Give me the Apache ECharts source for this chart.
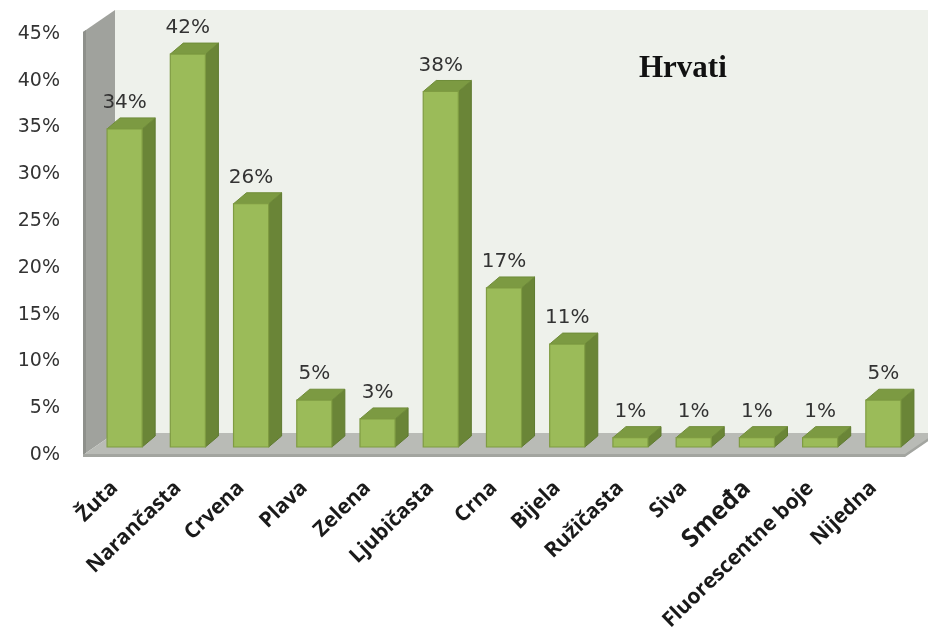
<!DOCTYPE html>
<html>
<head>
<meta charset="utf-8">
<script src="https://cdn.jsdelivr.net/npm/echarts@6/dist/echarts.min.js"></script>
<style>
  html, body { margin: 0; padding: 0; background: #ffffff; }
  #chart { width: 928px; height: 637px; }
</style>
</head>
<body>
<div id="chart"></div>
<script>
const categories = ['Žuta', 'Narančasta', 'Crvena', 'Plava', 'Zelena', 'Ljubičasta', 'Crna', 'Bijela', 'Ružičasta', 'Siva', 'Smeđa', 'Fluorescentne boje', 'Nijedna'];
const values = [34, 42, 26, 5, 3, 38, 17, 11, 1, 1, 1, 1, 5];
const yMin = 0;
const yMax = 45;
const yInterval = 5;
const titleText = 'Hrvati';

const chart = echarts.init(document.getElementById('chart'), null, { renderer: 'canvas' });

// 3D geometry (styling)
const WALL_DX = 32, WALL_DY = -22;
const BAR_OX = 10, BAR_OY = -8;
const BAR_DX = 13, BAR_DY = -11;

function renderWalls(params, api) {
  const first = api.coord([0, yMin]);
  const last = api.coord([categories.length - 1, yMax]);
  const band = api.size([1, 0])[0];
  const L = first[0] - band / 2;
  const R = last[0] + band / 2;
  const yB = first[1];
  const yT = last[1] - 2;
  return {
    type: 'group',
    silent: true,
    children: [
      { type: 'polygon', shape: { points: [[L + WALL_DX, yT + WALL_DY], [R + WALL_DX + 40, yT + WALL_DY], [R + WALL_DX + 40, yB + WALL_DY], [L + WALL_DX, yB + WALL_DY]] }, style: { fill: '#eef1eb' } },
      { type: 'polygon', shape: { points: [[L, yB], [L, yT], [L + WALL_DX, yT + WALL_DY], [L + WALL_DX, yB + WALL_DY]] }, style: { fill: '#a0a29d' } },
      { type: 'polygon', shape: { points: [[L, yB], [L, yT], [L + 3, yT - 2], [L + 3, yB - 2]] }, style: { fill: '#8e908b' } },
      { type: 'polygon', shape: { points: [[L, yB], [R, yB], [R + WALL_DX, yB + WALL_DY], [L + WALL_DX, yB + WALL_DY]] }, style: { fill: '#b9bbb6' } },
      { type: 'polygon', shape: { points: [[L, yB - 1], [R, yB - 1], [R + WALL_DX, yB + WALL_DY - 1], [R + WALL_DX, yB + WALL_DY + 2], [R, yB + 2], [L, yB + 2]] }, style: { fill: '#a3a5a0' } }
    ]
  };
}

function renderBar(params, api) {
  const idx = api.value(0);
  const val = api.value(1);
  const base = api.coord([idx, yMin]);
  const top = api.coord([idx, val]);
  const bw = api.size([1, 0])[0] * 0.555;
  const x0 = base[0] + BAR_OX - bw / 2;
  const x1 = x0 + bw;
  const yb = base[1] + BAR_OY;
  const yt = top[1] + BAR_OY;
  return {
    type: 'group',
    children: [
      { type: 'polygon', shape: { points: [[x1, yb], [x1, yt], [x1 + BAR_DX, yt + BAR_DY], [x1 + BAR_DX, yb + BAR_DY]] }, style: { fill: '#6a8537', stroke: '#5f7a30', lineWidth: 1 } },
      { type: 'polygon', shape: { points: [[x0, yt], [x1, yt], [x1 + BAR_DX, yt + BAR_DY], [x0 + BAR_DX, yt + BAR_DY]] }, style: { fill: '#7c9a42', stroke: '#6f8c39', lineWidth: 1 } },
      { type: 'rect', shape: { x: x0, y: yt, width: bw, height: yb - yt }, style: { fill: '#9bbb59', stroke: '#7f9c42', lineWidth: 1.2 } },
      { type: 'text', style: { x: (x0 + x1) / 2, y: yt - 26, text: val + '%', align: 'center', verticalAlign: 'middle', fontFamily: 'DejaVu Sans', fontSize: 20, fill: '#333333' } }
    ]
  };
}

const option = {
  animation: false,
  backgroundColor: '#ffffff',
  title: {
    text: titleText,
    left: 639,
    top: 53,
    padding: 0,
    textStyle: { fontFamily: 'Liberation Serif', fontWeight: 'bold', fontSize: 31, color: '#111111' }
  },
  grid: { left: 83, right: 23, top: 34, bottom: 182, containLabel: false },
  xAxis: {
    type: 'category',
    data: categories,
    axisLine: { show: false },
    axisTick: { show: false },
    splitLine: { show: false },
    axisLabel: {
      interval: 0,
      rotate: 44,
      margin: 30,
      fontFamily: 'Open Sans',
      fontWeight: 'bold',
      fontSize: 21,
      color: '#1a1a1a',
      formatter: function (v) { return v === 'Smeđa' ? '{big|' + v + '}' : v; },
      rich: { big: { fontFamily: 'Open Sans', fontWeight: 'bold', fontSize: 25, color: '#1a1a1a' } }
    }
  },
  yAxis: {
    type: 'value',
    min: yMin,
    max: yMax,
    interval: yInterval,
    axisLine: { show: false },
    axisTick: { show: false },
    splitLine: { show: false },
    axisLabel: {
      margin: 23,
      fontFamily: 'DejaVu Sans',
      fontSize: 19,
      color: '#333333',
      formatter: function (v) { return v + '%'; }
    }
  },
  series: [
    {
      type: 'custom',
      name: 'walls',
      silent: true,
      z: 1,
      renderItem: renderWalls,
      data: [[0, 0]],
      encode: { x: 0, y: 1 }
    },
    {
      type: 'custom',
      name: 'Hrvati',
      z: 2,
      renderItem: renderBar,
      data: values.map(function (v, i) { return [i, v]; }),
      encode: { x: 0, y: 1 }
    }
  ]
};
chart.setOption(option);
</script>
</body>
</html>
